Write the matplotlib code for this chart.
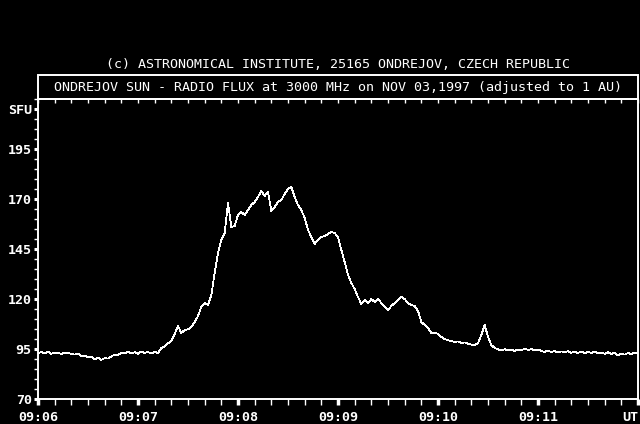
import matplotlib
matplotlib.use("Agg")
import matplotlib.pyplot as plt
from matplotlib.patches import Rectangle
import numpy as np

# Flux samples, one every 2 s starting 09:06:00 UT
seconds = list(range(0, 361, 2))
flux = [
    93.0, 93.5, 92.8, 93.7, 92.6, 93.2, 93.0, 92.5, 93.3, 93.0,
    92.6, 92.2, 92.8, 91.5, 91.8, 90.8, 91.2, 89.8, 90.6, 89.6,
    90.4, 90.2, 91.2, 92.3, 92.0, 93.2, 92.7, 93.6, 92.8, 93.4,
    92.6, 93.8, 93.0, 93.5, 92.8, 93.6, 92.9, 95.5, 96.2, 97.8,
    99.0, 102.5, 106.5, 103.0, 104.5, 104.8, 106.0, 108.5, 111.5, 116.0,
    118.0, 117.0, 122.0, 133.0, 143.0, 149.5, 153.0, 168.0, 156.0, 156.5,
    162.0, 163.5, 162.0, 164.5, 167.0, 168.5, 171.0, 174.0, 171.5, 173.5,
    164.0, 166.0, 168.5, 169.5, 172.5, 175.0, 176.0, 171.0, 167.0, 164.5,
    160.5, 154.5, 151.0, 147.5, 149.5, 151.0, 151.5, 152.5, 153.5, 153.0,
    151.0, 144.5, 138.5, 132.0, 128.0, 125.0, 121.0, 117.5, 119.5, 118.0,
    120.0, 118.5, 120.0, 118.0, 116.0, 114.5, 116.5, 118.0, 119.5, 121.0,
    120.0, 118.0, 117.0, 116.5, 114.0, 108.5, 107.0, 105.5, 103.0, 103.2,
    102.5, 101.0, 100.0, 99.4, 99.0, 98.5, 98.8, 98.0, 98.3, 97.6,
    97.2, 97.0, 97.8, 102.0, 107.0, 101.0, 97.0, 95.5, 94.8, 94.3,
    94.9, 94.2, 94.6, 94.0, 94.8, 94.3, 95.2, 94.5, 95.0, 94.2,
    94.8, 94.0, 93.6, 94.2, 93.5, 94.0, 93.2, 93.8, 93.3, 93.9,
    93.1, 93.6, 93.0, 93.7, 92.9, 93.5, 93.0, 93.8, 92.8, 93.3,
    92.6, 93.4, 92.5, 93.2, 91.8, 92.7, 92.2, 93.0, 92.4, 93.3,
    92.8,
]

ytick_vals = [70, 95, 120, 145, 170, 195, 215]
ytick_labels = ["70", "95", "120", "145", "170", "195", "SFU"]
xtick_vals = [0, 60, 120, 180, 240, 300, 360]
xtick_labels = ["09:06", "09:07", "09:08", "09:09", "09:10", "09:11", "UT"]

caption = "(c) ASTRONOMICAL INSTITUTE, 25165 ONDREJOV, CZECH REPUBLIC"
title = "ONDREJOV SUN - RADIO FLUX at 3000 MHz on NOV 03,1997 (adjusted to 1 AU)"

mono = "DejaVu Sans Mono"
W, H = 640, 424

fig = plt.figure(figsize=(6.4, 4.24), dpi=100, facecolor="black")
ax = fig.add_axes([38 / W, 25 / H, 600 / W, 300 / H], facecolor="black")

ax.plot(seconds, flux, color="white", lw=0.55, antialiased=False)

ax.set_xlim(0, 360)
ax.set_ylim(70, 220)

for s in ax.spines.values():
    s.set_color("white")
    s.set_linewidth(1.4)

# y axis
ax.set_yticks(ytick_vals)
ax.set_yticklabels(ytick_labels, family=mono, fontsize=9.6, fontweight="bold", color="white")
ax.set_yticks(np.arange(70, 221, 5), minor=True)
ax.tick_params(axis="y", which="major", direction="out", length=3, width=2.2, color="white", pad=1.5)
ax.tick_params(axis="y", which="minor", direction="out", length=3, width=1, color="white")

# x axis
ax.set_xticks(xtick_vals)
ax.set_xticklabels(xtick_labels, family=mono, fontsize=9.6, fontweight="bold", color="white")
ax.get_xticklabels()[-1].set_horizontalalignment("right")
ax.set_xticks(np.arange(0, 361, 10), minor=True)
ax.tick_params(axis="x", which="major", direction="out", length=4, width=2.5, color="white", pad=4.5)
ax.tick_params(axis="x", which="minor", direction="out", length=4, width=1, color="white")

# small ticks hanging from the top border
top = ax.secondary_xaxis("top")
top.set_xticks(np.arange(0, 361, 10))
top.tick_params(direction="in", length=3, width=1, color="white", labeltop=False)
top.spines["top"].set_visible(False)

# title box above the plot
fig.patches.append(Rectangle((38 / W, (H - 99) / H), 600 / W, 24 / H,
                             transform=fig.transFigure, fill=False,
                             edgecolor="white", lw=1.4))
fig.text(338 / W, (H - 87) / H, title, family=mono, fontsize=9.6,
         color="white", ha="center", va="center")
fig.text(338 / W, (H - 64) / H, caption, family=mono, fontsize=9.6,
         color="white", ha="center", va="center")

fig.savefig("out.png", dpi=100, facecolor="black")
